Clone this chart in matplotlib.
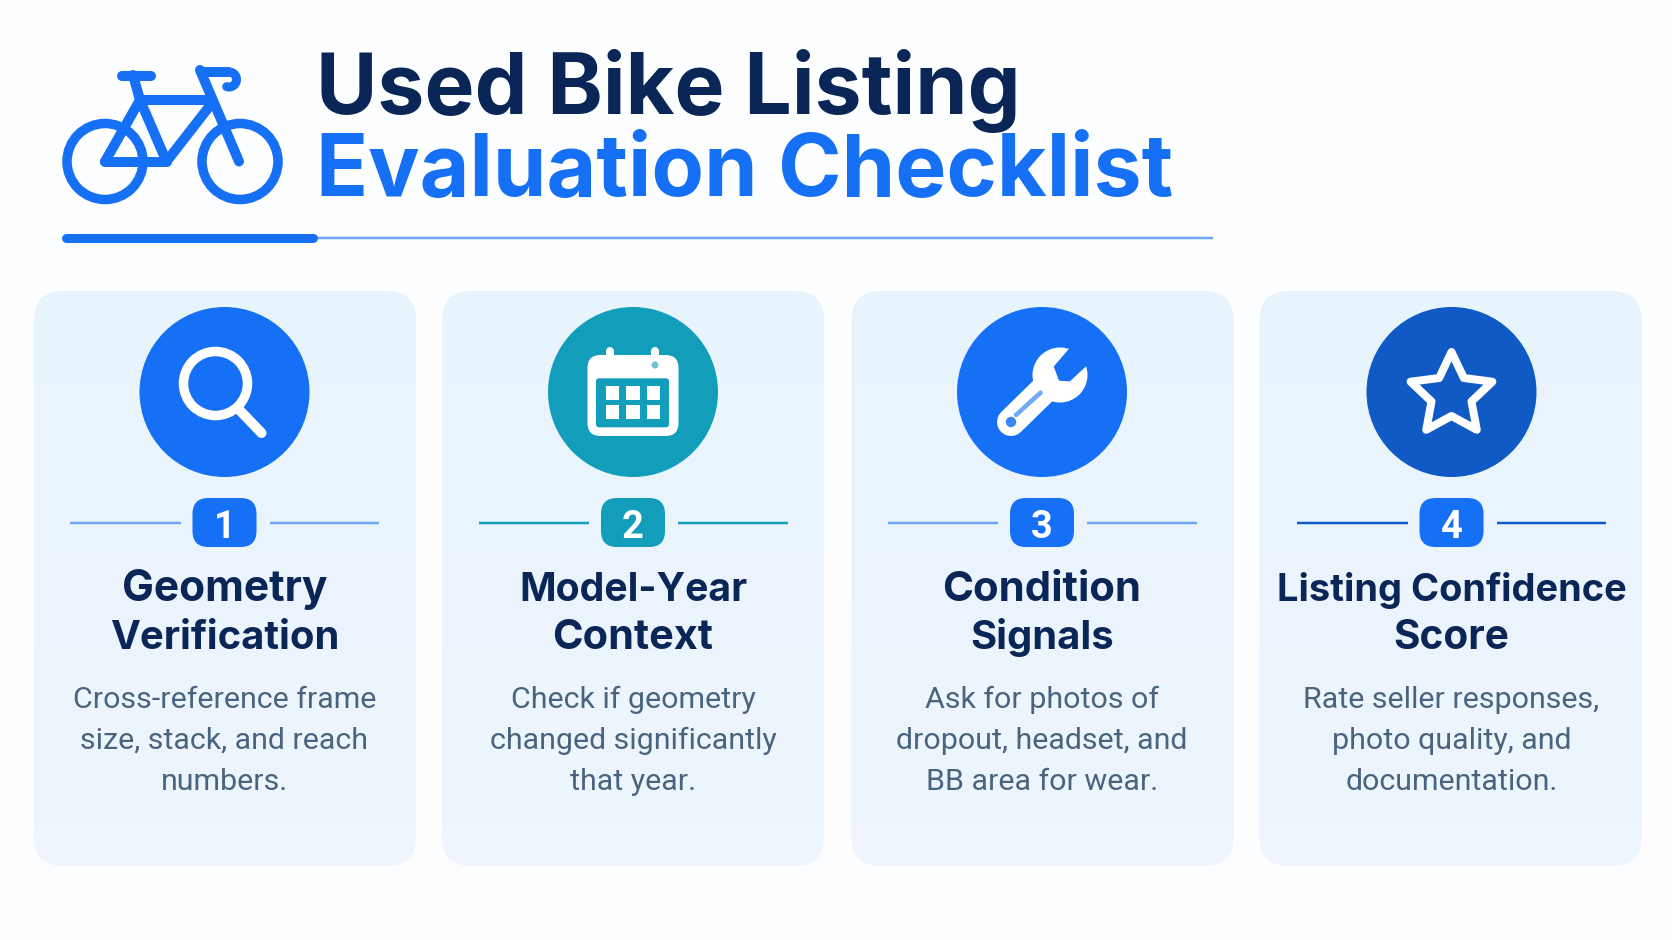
import numpy as np
import matplotlib
matplotlib.use('Agg')
import matplotlib.pyplot as plt
from matplotlib.patches import Circle, FancyBboxPatch, Polygon

title_lines = ['Used Bike Listing', 'Evaluation Checklist']
numbers = ['1', '2', '3', '4']
card_titles = [['Geometry', 'Verification'], ['Model-Year', 'Context'],
               ['Condition', 'Signals'], ['Listing Confidence', 'Score']]
card_title_sizes = [[42.5, 40], [39.2, 41.5], [42, 40], [38, 40.5]]
card_texts = [['Cross-reference frame', 'size, stack, and reach', 'numbers.'],
              ['Check if geometry', 'changed significantly', 'that year.'],
              ['Ask for photos of', 'dropout, headset, and', 'BB area for wear.'],
              ['Rate seller responses,', 'photo quality, and', 'documentation.']]
accents = ['#1570F5', '#129DBB', '#1570F5', '#0F5AC4']
badge_colors = ['#1570F5', '#129DBB', '#1570F5', '#1570F5']
icons = ['search', 'calendar', 'wrench', 'star']

NAVY = '#0A2656'
BLUE = '#1570F5'
GREY = '#4A6480'
FONT = 'Inter'
BODY_FONT = 'Roboto'
PX = 0.72  # pixels to points at dpi 100

fig = plt.figure(figsize=(16.72, 9.4), dpi=100)
ax = fig.add_axes([0, 0, 1, 1])
ax.set_xlim(0, 1672)
ax.set_ylim(940, 0)
ax.axis('off')

# faint page tint
yy, xx = np.mgrid[0:1:60j, 0:1:100j]
bg = np.dstack([0.99 + 0.005 * (1 - yy), 0.995 + 0.003 * (1 - yy), np.ones_like(yy)])
ax.imshow(bg, extent=(0, 1672, 940, 0), aspect='auto', zorder=0, interpolation='bicubic')


def seg(x0, y0, x1, y1, color, w, z=5, cap='round'):
    ax.plot([x0, x1], [y0, y1], color=color, lw=w * PX, solid_capstyle=cap, zorder=z)


def ring(x, y, r, color, w, z=5):
    ax.add_patch(Circle((x, y), r, fill=False, ec=color, lw=w * PX, zorder=z))


def draw_bike():
    for cx in (105, 240):
        ring(cx, 161.5, 38, BLUE, 9.5)
    tubes = [(105, 161.5, 140, 100), (105, 161.5, 166.5, 161.5), (140, 100, 166.5, 161.5),
             (140, 100, 210, 100), (166.5, 161.5, 212, 103), (200, 70, 239, 161.5),
             (140, 100, 133, 75), (122, 75.5, 151, 75.5), (201, 72, 228, 72)]
    for t in tubes:
        seg(*t, BLUE, 10)
    t = np.linspace(-np.pi / 2, np.pi * 0.6, 30)
    ax.plot(229 + 7.5 * np.cos(t), 79.5 + 7.5 * np.sin(t), color=BLUE, lw=9 * PX,
            solid_capstyle='round', zorder=5)


def draw_search(cx, cy, color):
    ring(cx - 9, cy - 8.5, 32, 'white', 9.5, 6)
    seg(cx + 13, cy + 16, cx + 37, cy + 41, 'white', 10, 6)


def draw_calendar(cx, cy, color):
    ax.add_patch(FancyBboxPatch((cx - 45.5, cy - 37), 91, 81, boxstyle='round,pad=0,rounding_size=13',
                                fc='white', ec='none', zorder=6))
    ax.add_patch(FancyBboxPatch((cx - 37, cy - 13.7), 73, 49, boxstyle='round,pad=0,rounding_size=3',
                                fc=color, ec='none', zorder=7))
    for dx in (-23, 22):
        seg(cx + dx, cy - 41, cx + dx, cy - 34, 'white', 8, 6)
    for dx in (-20.5, 0, 20.5):
        for dy in (1, 20):
            ax.add_patch(plt.Rectangle((cx + dx - 6.7, cy + dy - 6.7), 13.4, 13.4, fc='white', ec='none', zorder=8))
    ax.add_patch(Circle((cx + 22, cy - 27), 3.5, fc='#6FC2D8', ec='none', zorder=8))


def draw_wrench(cx, cy, color):
    seg(cx - 31, cy + 30, cx + 8, cy - 8, 'white', 28, 6)
    ax.add_patch(Circle((cx + 18, cy - 17), 27.5, fc='white', ec='none', zorder=6))
    ax.add_patch(Polygon([(cx + 26.8, cy - 42), (cx + 12.5, cy - 25.3), (cx + 17.5, cy - 12),
                          (cx + 27.5, cy - 11.3), (cx + 43.5, cy - 26), (cx + 55, cy - 48)],
                         fc=color, ec=color, lw=1, joinstyle='round', zorder=7))
    seg(cx - 26, cy + 23, cx - 1.5, cy + 0.7, '#6FA9F8', 4.5, 8)
    ax.add_patch(Circle((cx - 31, cy + 30), 5.2, fc='#3E86F0', ec='none', zorder=8))


def draw_star(cx, cy, color):
    ang = np.radians(-90 + 36 * np.arange(10))
    rad = np.where(np.arange(10) % 2 == 0, 43, 21)
    pts = np.c_[cx + rad * np.cos(ang), cy + 3 + rad * np.sin(ang)]
    ax.add_patch(Polygon(pts, closed=True, fill=False, ec='white', lw=8 * PX, joinstyle='round', zorder=6))


draw_icon = {'search': draw_search, 'calendar': draw_calendar, 'wrench': draw_wrench, 'star': draw_star}

# header
draw_bike()
ax.text(316, 114, title_lines[0], color=NAVY, fontsize=84 * PX, fontweight='bold', family=FONT,
        ha='left', va='baseline', zorder=5)
ax.text(316, 196, title_lines[1], color=BLUE, fontsize=86 * PX, fontweight='bold', family=FONT,
        ha='left', va='baseline', zorder=5)
seg(317, 238, 1213, 238, '#6FA5F2', 2.5, 4, 'butt')
seg(66, 238, 313, 238, BLUE, 9, 5)

# cards
card_left = [34, 442, 851.5, 1259.5]
card_cx = [224.5, 633, 1042, 1451.5]
card_w = 382
card_top, card_bottom = 291, 866
for i, x0 in enumerate(card_left):
    cx = card_cx[i]
    card = FancyBboxPatch((x0, card_top), card_w, card_bottom - card_top,
                          boxstyle='round,pad=0,rounding_size=30', fc='#EAF5FD', ec='none', zorder=1)
    ax.add_patch(card)
    grad = np.dstack([np.linspace(0.91, 0.935, 50)[:, None].repeat(50, 1),
                      np.linspace(0.957, 0.963, 50)[:, None].repeat(50, 1),
                      np.full((50, 50), 0.99)])
    im = ax.imshow(grad, extent=(x0, x0 + card_w, card_bottom, card_top), aspect='auto', zorder=1.5)
    im.set_clip_path(card)

    ax.add_patch(Circle((cx, 392), 85, fc=accents[i], ec='none', zorder=4))
    draw_icon[icons[i]](cx, 392, accents[i])

    line_color = accents[i] if i in (1, 3) else '#6FA5F2'
    seg(cx - 154.5, 523, cx - 44, 523, line_color, 2.5, 3, 'butt')
    seg(cx + 45, 523, cx + 154.5, 523, line_color, 2.5, 3, 'butt')
    ax.add_patch(FancyBboxPatch((cx - 32, 498), 64, 49, boxstyle='round,pad=0,rounding_size=16',
                                fc=badge_colors[i], ec='none', zorder=4))
    ax.text(cx, 523, numbers[i], color='white', fontsize=38 * PX, fontweight='bold', family=BODY_FONT,
            ha='center', va='center_baseline', zorder=5)

    for j, line in enumerate(card_titles[i]):
        ax.text(cx, 601 + 48 * j, line, color=NAVY, fontsize=card_title_sizes[i][j] * PX, fontweight='bold',
                family=FONT, ha='center', va='baseline', zorder=5)
    for j, line in enumerate(card_texts[i]):
        ax.text(cx, 708 + 41 * j, line, color=GREY, fontsize=30.4 * PX, family=BODY_FONT,
                ha='center', va='baseline', zorder=5)

ax.set_xlim(0, 1672)
ax.set_ylim(940, 0)
fig.savefig('out.png', dpi=100)
